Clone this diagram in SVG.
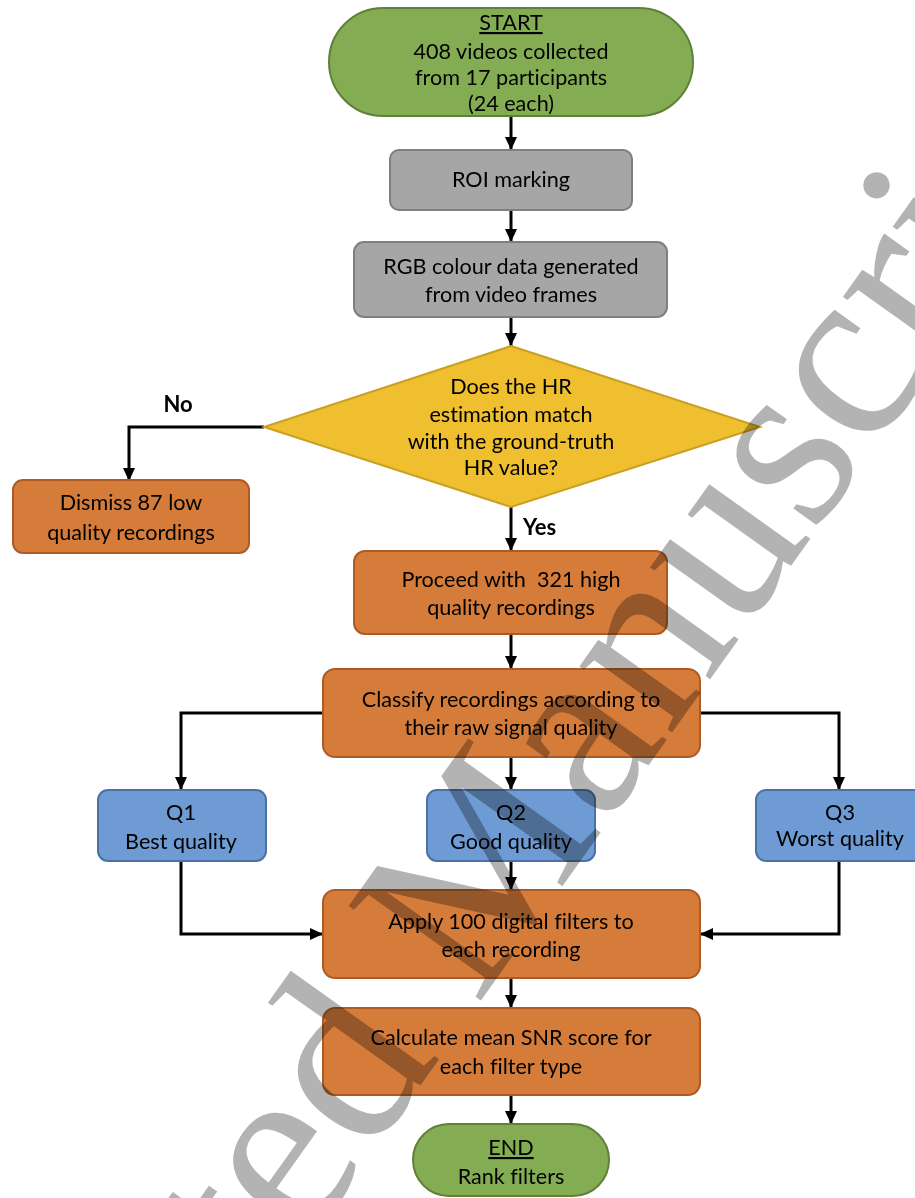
<svg xmlns="http://www.w3.org/2000/svg" width="915" height="1198" viewBox="0 0 915 1198">
<defs>
<marker id="arr" markerUnits="userSpaceOnUse" markerWidth="14" markerHeight="14" viewBox="0 0 14 14" refX="13" refY="7" orient="auto">
<path d="M0,1 L13,7 L0,13 Z" fill="#000"/>
</marker>
<style>
.t{font-family:Lato,"Liberation Sans",sans-serif;font-size:21.6px;fill:#000;text-anchor:middle;font-variant-ligatures:none}
.b{font-family:Lato,"Liberation Sans",sans-serif;font-size:22px;font-weight:bold;fill:#000}
.green{fill:#84ad53;stroke:#5e8038;stroke-width:2}
.gray{fill:#a6a6a6;stroke:#7f7f7f;stroke-width:2}
.gold{fill:#efbf2f;stroke:#c9a021;stroke-width:2}
.orange{fill:#d57c3b;stroke:#ad5b24;stroke-width:2}
.blue{fill:#6e9bd4;stroke:#4a72a7;stroke-width:2}
.c{fill:none;stroke:#000;stroke-width:3;marker-end:url(#arr)}
.wm{font-family:"Liberation Serif",serif;font-size:248px;fill:#b3b3b3;mix-blend-mode:multiply}
</style>
</defs>
<rect width="915" height="1198" fill="#fff"/>
<g id="connectors">
<path class="c" d="M511,116 V150"/>
<path class="c" d="M511,210 V242"/>
<path class="c" d="M511,317 V346"/>
<path class="c" d="M264,427 H129 V481"/>
<path class="c" d="M511,507 V551"/>
<path class="c" d="M511,634 V669"/>
<path class="c" d="M323,713 H181 V790"/>
<path class="c" d="M700,713 H839 V790"/>
<path class="c" d="M511,757 V790"/>
<path class="c" d="M181,861 V934 H323"/>
<path class="c" d="M839,861 V934 H700"/>
<path class="c" d="M511,861 V890"/>
<path class="c" d="M511,978 V1008"/>
<path class="c" d="M511,1095 V1124"/>
<text class="b" x="178" y="412" text-anchor="middle">No</text>
<text class="b" x="523" y="535">Yes</text>
</g>
<g id="start">
<rect class="green" x="329" y="8" width="364" height="108" rx="54"/>
<text class="t" x="511" y="30" text-decoration="underline">START</text>
<text class="t" x="511" y="59">408 videos collected</text>
<text class="t" x="511" y="85">from 17 participants</text>
<text class="t" x="511" y="111">(24 each)</text>
</g>
<g id="roi">
<rect class="gray" x="390" y="150" width="242" height="60" rx="9"/>
<text class="t" x="511" y="187">ROI marking</text>
</g>
<g id="rgb">
<rect class="gray" x="354" y="242" width="313" height="75" rx="10"/>
<text class="t" x="511" y="274">RGB colour data generated</text>
<text class="t" x="511" y="302">from video frames</text>
</g>
<g id="decision">
<path class="gold" d="M511,346 L760,427 L511,507 L264,427 Z"/>
<text class="t" x="511" y="394">Does the HR</text>
<text class="t" x="511" y="422">estimation match</text>
<text class="t" x="511" y="449">with the ground-truth</text>
<text class="t" x="511" y="475">HR value?</text>
</g>
<g id="dismiss">
<rect class="orange" x="13" y="480" width="236" height="73" rx="10"/>
<text class="t" x="131" y="510">Dismiss 87 low</text>
<text class="t" x="131" y="540">quality recordings</text>
</g>
<g id="proceed">
<rect class="orange" x="354" y="551" width="313" height="83" rx="11"/>
<text class="t" x="511" y="587" xml:space="preserve">Proceed with  321 high</text>
<text class="t" x="511" y="615">quality recordings</text>
</g>
<g id="classify">
<rect class="orange" x="323" y="669" width="377" height="88" rx="12"/>
<text class="t" x="511" y="707">Classify recordings according to</text>
<text class="t" x="511" y="735">their raw signal quality</text>
</g>
<g id="q1">
<rect class="blue" x="98" y="790" width="168" height="71" rx="10"/>
<text class="t" x="181" y="820">Q1</text>
<text class="t" x="181" y="849">Best quality</text>
</g>
<g id="q2">
<rect class="blue" x="427" y="790" width="168" height="71" rx="10"/>
<text class="t" x="511" y="820">Q2</text>
<text class="t" x="511" y="849">Good quality</text>
</g>
<g id="q3">
<rect class="blue" x="756" y="790" width="168" height="71" rx="10"/>
<text class="t" x="840" y="820">Q3</text>
<text class="t" x="840" y="846">Worst quality</text>
</g>
<g id="apply">
<rect class="orange" x="323" y="890" width="377" height="88" rx="12"/>
<text class="t" x="511" y="929">Apply 100 digital filters to</text>
<text class="t" x="511" y="957">each recording</text>
</g>
<g id="calculate">
<rect class="orange" x="323" y="1008" width="377" height="87" rx="12"/>
<text class="t" x="511" y="1045">Calculate mean SNR score for</text>
<text class="t" x="511" y="1074">each filter type</text>
</g>
<g id="end">
<rect class="green" x="413" y="1124" width="196" height="72" rx="36"/>
<text class="t" x="511" y="1155" text-decoration="underline">END</text>
<text class="t" x="511" y="1184">Rank filters</text>
</g>
<g id="watermark">
<text class="wm" transform="translate(-103,1819) rotate(-54.5)">Accepted Manuscript</text>
</g>
</svg>
